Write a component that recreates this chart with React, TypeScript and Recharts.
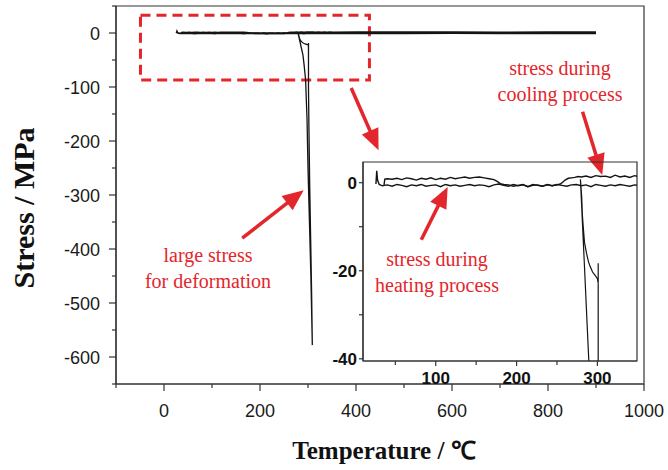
import React from "react";
import { LineChart, Line, XAxis, YAxis, ReferenceArea, ReferenceLine } from "recharts";

const frameColor = "#333333";
const lineColor = "#141414";
const red = "#e3262b";
const serif = "'Liberation Serif', 'Times New Roman', serif";
const sans = "'Liberation Sans', Arial, sans-serif";

// heating run (lower trace)
const heatT = [
  26, 27, 28, 30, 34,
  40, 46, 52, 58, 64, 70, 76, 82, 88, 94,
  100, 106, 112, 118, 124, 130, 136, 142, 148, 154,
  160, 166, 172, 178, 184, 190, 196, 202, 208, 214,
  220, 226, 232, 238, 244, 250, 256, 262, 268, 274,
  280, 286, 292, 298, 304, 310, 316, 322, 328, 334,
  340, 346, 352,
  400, 500, 600, 700, 800, 900,
];
const heatS = [
  -0.3, 2.7, 0.6, -0.4, -0.7,
  -0.5, -0.8, -0.4, -0.6, -0.9, -0.5, -0.7, -0.4, -0.8, -0.6,
  -0.5, -0.9, -0.4, -0.7, -0.5, -0.8, -0.6, -0.4, -0.7, -0.5,
  -0.6, -0.9, -0.5, -0.3, -0.6, -0.8, -0.4, -0.7, -0.5, -0.9,
  -0.4, -0.6, -0.8, -0.5, -0.7, -0.4, -0.6, -0.8, -0.5, -0.4,
  -0.7, -0.5, -0.9, -0.4, -0.6, -0.8, -0.5, -0.7, -0.4, -0.6,
  -0.8, -0.5, -0.6,
  -0.5, -0.6, -0.4, -0.5, -0.6, -0.5,
];

// cooling run (upper trace)
const coolT = [
  900, 800, 700, 600, 500, 400,
  352, 346, 340, 334, 328, 322, 316, 310, 304, 298, 292, 286, 280,
  276, 272, 268, 264, 260, 257, 254, 250,
  244, 238, 232, 226, 220, 214, 208, 202, 196, 190, 184,
  180, 176, 172,
  166, 160, 154, 148, 142, 136, 130, 124, 118, 112, 106,
  100, 94, 88, 82, 76, 70, 64, 58, 52, 46, 40,
  37, 36,
];
const coolS = [
  1.4, 1.5, 1.3, 1.4, 1.5, 1.4,
  1.3, 1.6, 1.2, 1.5, 1.3, 1.7, 1.2, 1.5, 1.4, 1.6, 1.2, 1.5, 1.3,
  1.4, 1.2, 1.1, 1.0, 0.6, 0.1, -0.3, -0.5,
  -0.7, -0.4, -0.8, -0.5, -0.6, -0.9, -0.4, -0.6, -0.8, -0.5, -0.4,
  -0.2, 0.3, 0.7,
  0.9, 1.1, 1.3, 1.2, 1.0, 1.3, 1.1, 0.9, 1.2, 0.8, 1.0,
  0.7, 1.1, 0.8, 1.0, 0.6, 0.9, 1.1, 0.7, 1.0, 0.8, 0.9,
  0.8, -0.5,
];

// deformation loop
const defT = [
  279, 281, 284, 287, 289.5, 292, 295, 298, 300, 303, 306, 309,
  307.5, 305.5, 303.5, 302, 301, 301, 301, 301,
  300, 297, 294, 291, 289, 286.5, 284, 282.5, 281.5, 280.5, 279,
];
const defS = [
  0.8, -7.2, -19, -31, -41, -60, -87, -160, -250, -350, -450, -578,
  -480, -380, -280, -180, -100, -40, -18.3, -22.8,
  -21.8, -21, -20.3, -19, -18, -16, -13.5, -10, -7.5, -3, 0.8,
];

const mainXTicks = [-100, 0, 100, 200, 300, 400, 500, 600, 700, 800, 900, 1000];
const mainYTicks = [-650, -600, -550, -500, -450, -400, -350, -300, -250, -200, -150, -100, -50, 0, 50];
const insetXTicks = [50, 100, 150, 200, 250, 300];
const insetYTicks = [-40, -30, -20, -10, 0];

const heatData = heatT.map((t, i) => ({ t, s: heatS[i] }));
const coolData = coolT.map((t, i) => ({ t, s: coolS[i] }));
const defData = defT.map((t, i) => ({ t, s: defS[i] }));

// arrow segments in main-chart data units
const arrows = [
  [390, -102, 447, -217],
  [872, -146, 913, -263],
  [163, -380, 291, -291],
  [536, -383, 591, -285],
];

function Arrow(props: any) {
  const { x1, y1, x2, y2 } = props;
  const a = Math.atan2(y2 - y1, x2 - x1);
  const len = 21;
  const half = 9;
  const bx = x2 - len * Math.cos(a);
  const by = y2 - len * Math.sin(a);
  const px = -Math.sin(a) * half;
  const py = Math.cos(a) * half;
  return (
    <g>
      <line x1={x1} y1={y1} x2={bx + 2 * Math.cos(a)} y2={by + 2 * Math.sin(a)} stroke={red} strokeWidth={3.5} />
      <polygon points={`${x2},${y2} ${bx + px},${by + py} ${bx - px},${by - py}`} fill={red} />
    </g>
  );
}

function MainXTick({ x, y, payload }: any) {
  const v = payload.value;
  const major = v >= 0 && v % 200 === 0;
  return (
    <g>
      <line x1={x} x2={x} y1={y} y2={y + (major ? 7 : 4)} stroke={frameColor} strokeWidth={1.2} />
      {major && (
        <text x={x} y={y + 33} textAnchor="middle" fontFamily={sans} fontSize={18} fill="#1a1a1a">
          {v}
        </text>
      )}
    </g>
  );
}

function MainYTick({ x, y, payload }: any) {
  const v = payload.value;
  const major = v <= 0 && v >= -600 && v % 100 === 0;
  return (
    <g>
      <line x1={x - (major ? 7 : 4)} x2={x} y1={y} y2={y} stroke={frameColor} strokeWidth={1.2} />
      {major && (
        <text x={x - 16} y={y + 6.5} textAnchor="end" fontFamily={sans} fontSize={18} fill="#1a1a1a">
          {v}
        </text>
      )}
    </g>
  );
}

function InsetXTick({ x, y, payload }: any) {
  const v = payload.value;
  const major = v % 100 === 0;
  return (
    <g>
      <line x1={x} x2={x} y1={y} y2={y + (major ? 5 : 4)} stroke={frameColor} strokeWidth={1.2} />
      {major && (
        <text x={x} y={y + 23} textAnchor="middle" fontFamily={sans} fontWeight="bold" fontSize={17} fill="#111">
          {v}
        </text>
      )}
    </g>
  );
}

function InsetYTick({ x, y, payload }: any) {
  const v = payload.value;
  const major = v % 20 === 0;
  return (
    <g>
      <line x1={x - 4} x2={x} y1={y} y2={y} stroke={frameColor} strokeWidth={1.2} />
      {major && (
        <text x={x - 6} y={y + 6} textAnchor="end" fontFamily={sans} fontWeight="bold" fontSize={17} fill="#111">
          {v}
        </text>
      )}
    </g>
  );
}

export default function App() {
  return (
    <div style={{ position: "absolute", left: 0, top: 0, width: 668, height: 470, background: "#fff" }}>
      <div style={{ position: "absolute", left: 0, top: 0 }}>
        <LineChart width={668} height={470} margin={{ top: 6, right: 24, bottom: 0, left: 0 }}>
          <XAxis
            dataKey="t"
            type="number"
            domain={[-100, 1000]}
            ticks={mainXTicks}
            interval={0}
            tickSize={0}
            tickMargin={0}
            tickLine={false}
            tick={MainXTick}
            height={86}
            axisLine={{ stroke: frameColor, strokeWidth: 1.2 }}
            allowDataOverflow
          />
          <YAxis
            type="number"
            domain={[-650, 50]}
            ticks={mainYTicks}
            interval={0}
            tickSize={0}
            tickMargin={0}
            tickLine={false}
            tick={MainYTick}
            width={116}
            axisLine={{ stroke: frameColor, strokeWidth: 1.2 }}
            allowDataOverflow
          />
          <ReferenceArea x1={-100} x2={1000} y1={-650} y2={50} fill="none" stroke={frameColor} strokeWidth={1.2} />
          <ReferenceArea
            x1={-49}
            x2={428}
            y1={-87}
            y2={33}
            fill="none"
            fillOpacity={0}
            stroke={red}
            strokeWidth={3}
            strokeDasharray="10 6"
          />
          <Line data={heatData} dataKey="s" stroke={lineColor} strokeWidth={1.8} dot={false} isAnimationActive={false} />
          <Line data={coolData} dataKey="s" stroke={lineColor} strokeWidth={1.8} dot={false} isAnimationActive={false} />
          <Line data={defData} dataKey="s" stroke={lineColor} strokeWidth={1.3} dot={false} isAnimationActive={false} />
          {arrows.map((a, i) => (
            <ReferenceLine
              key={i}
              segment={[
                { x: a[0], y: a[1] },
                { x: a[2], y: a[3] },
              ]}
              ifOverflow="visible"
              shape={Arrow}
            />
          ))}
        </LineChart>
      </div>

      <div style={{ position: "absolute", left: 323, top: 152 }}>
        <LineChart width={324} height={240} margin={{ top: 10, right: 10, bottom: 0, left: 0 }}>
          <XAxis
            dataKey="t"
            type="number"
            domain={[10, 349]}
            ticks={insetXTicks}
            interval={0}
            tickSize={0}
            tickMargin={0}
            tickLine={false}
            tick={InsetXTick}
            height={31}
            axisLine={{ stroke: frameColor, strokeWidth: 1.2 }}
            allowDataOverflow
          />
          <YAxis
            type="number"
            domain={[-40.5, 4.7]}
            ticks={insetYTicks}
            interval={0}
            tickSize={0}
            tickMargin={0}
            tickLine={false}
            tick={InsetYTick}
            width={40}
            axisLine={{ stroke: frameColor, strokeWidth: 1.2 }}
            allowDataOverflow
          />
          <ReferenceArea x1={10} x2={349} y1={-40.5} y2={4.7} fill="none" stroke={frameColor} strokeWidth={1.2} />
          <Line data={heatData} dataKey="s" stroke={lineColor} strokeWidth={1.4} dot={false} isAnimationActive={false} />
          <Line data={coolData} dataKey="s" stroke={lineColor} strokeWidth={1.4} dot={false} isAnimationActive={false} />
          <Line data={defData} dataKey="s" stroke={lineColor} strokeWidth={1.2} dot={false} isAnimationActive={false} />
        </LineChart>
      </div>

      <svg width={668} height={470} style={{ position: "absolute", left: 0, top: 0, pointerEvents: "none" }}>
        <text
          x={34}
          y={208}
          transform="rotate(-90, 34, 208)"
          textAnchor="middle"
          fontFamily={serif}
          fontWeight="bold"
          fontSize={30}
          fill="#111"
        >
          Stress / MPa
        </text>
        <text x={384} y={459} textAnchor="middle" fontFamily={serif} fontWeight="bold" fontSize={25} fill="#111">
          Temperature / ℃
        </text>
        <g fontFamily={serif} fontSize={20} fill={red} textAnchor="middle">
          <text x={208} y={262}>large stress</text>
          <text x={208} y={288}>for deformation</text>
          <text x={560} y={75}>stress during</text>
          <text x={560} y={101}>cooling process</text>
          <text x={437} y={266}>stress during</text>
          <text x={437} y={292}>heating process</text>
        </g>
      </svg>
    </div>
  );
}
